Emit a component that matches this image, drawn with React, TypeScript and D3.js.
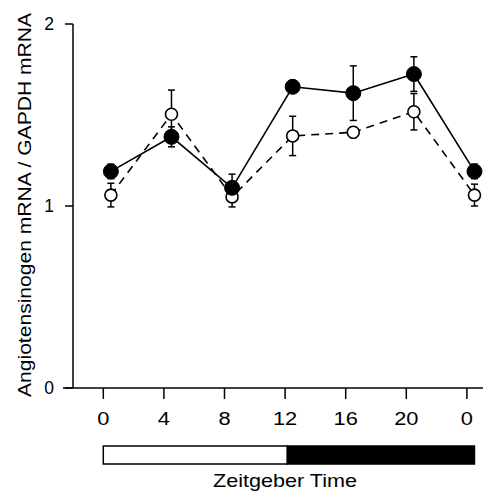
import React from "react";
import * as d3 from "d3";

const xTickValues = [0, 4, 8, 12, 16, 20, 24];
const xTickLabels = ["0", "4", "8", "12", "16", "20", "0"];
const yTickValues = [0, 1, 2];
const timePoints = [0.5, 4.5, 8.5, 12.5, 16.5, 20.5, 24.5];
const filledMeans = [1.19, 1.38, 1.1, 1.655, 1.62, 1.725, 1.19];
const filledErrors = [0.04, 0.055, 0.075, 0.03, 0.15, 0.095, 0.04];
const openMeans = [1.06, 1.504, 1.05, 1.385, 1.405, 1.518, 1.06];
const openErrors = [0.065, 0.133, 0.055, 0.108, 0.03, 0.1, 0.06];
const lightPhase = [0, 12.15];
const darkPhase = [12.15, 24.5];

const W = 485;
const H = 494;
const FONT = "Liberation Sans, Arial, Helvetica, sans-serif";

export default function App() {
  const x = d3.scaleLinear().domain([0, 24]).range([103.3, 466.9]);
  const y = d3.scaleLinear().domain([0, 2]).range([388, 24]);

  const filled = timePoints.map((t, i) => ({ t, m: filledMeans[i], e: filledErrors[i] }));
  const open = timePoints.map((t, i) => ({ t, m: openMeans[i], e: openErrors[i] }));

  const line = d3
    .line<{ t: number; m: number }>()
    .x((d) => x(d.t))
    .y((d) => y(d.m));

  const cap = 3.5;
  const errBar = (d: { t: number; m: number; e: number }, key: string) => {
    const cx = x(d.t);
    const y1 = y(d.m + d.e);
    const y2 = y(d.m - d.e);
    return (
      <g key={key} stroke="#000" strokeWidth={1.5}>
        <line x1={cx} x2={cx} y1={y1} y2={y2} />
        <line x1={cx - cap} x2={cx + cap} y1={y1} y2={y1} />
        <line x1={cx - cap} x2={cx + cap} y1={y2} y2={y2} />
      </g>
    );
  };

  const barY = 446;
  const barH = 18;

  return (
    <svg
      width={W}
      height={H}
      style={{ position: "absolute", left: 0, top: 0, background: "#fff" }}
      fontFamily={FONT}
    >
      <rect x={0} y={0} width={W} height={H} fill="#fff" />
      {/* axes */}
      <line x1={73} x2={73} y1={y(2)} y2={y(0)} stroke="#000" strokeWidth={1.5} />
      <line x1={63} x2={483} y1={y(0)} y2={y(0)} stroke="#000" strokeWidth={1.5} />
      {yTickValues.map((v) => (
        <g key={"yt" + v}>
          <line x1={65} x2={73} y1={y(v)} y2={y(v)} stroke="#000" strokeWidth={1.5} />
          <text x={54} y={y(v)} dy="0.36em" textAnchor="end" fontSize={17.5}>
            {v}
          </text>
        </g>
      ))}
      {xTickValues.map((v, i) => (
        <g key={"xt" + i}>
          <line x1={x(v)} x2={x(v)} y1={y(0)} y2={y(0) + 11} stroke="#000" strokeWidth={1.5} />
          <text
            x={x(v)}
            y={425}
            textAnchor="middle"
            fontSize={18.5}
            transform={`translate(${x(v)},0) scale(1.18,1) translate(${-x(v)},0)`}
          >
            {xTickLabels[i]}
          </text>
        </g>
      ))}
      {/* y label */}
      <text
        transform="translate(31,205) rotate(-90)"
        textAnchor="middle"
        fontSize={17.5}
        textLength={384}
        lengthAdjust="spacingAndGlyphs"
      >
        Angiotensinogen mRNA / GAPDH mRNA
      </text>
      {/* lines */}
      <path d={line(open) || ""} fill="none" stroke="#000" strokeWidth={1.6} strokeDasharray="8,6" />
      <path d={line(filled) || ""} fill="none" stroke="#000" strokeWidth={1.6} />
      {/* error bars */}
      {open.map((d, i) => errBar(d, "eo" + i))}
      {filled.map((d, i) => errBar(d, "ef" + i))}
      {/* markers */}
      {open.map((d, i) => (
        <circle key={"o" + i} cx={x(d.t)} cy={y(d.m)} r={6} fill="#fff" stroke="#000" strokeWidth={1.6} />
      ))}
      {filled.map((d, i) => (
        <circle key={"f" + i} cx={x(d.t)} cy={y(d.m)} r={7.5} fill="#000" stroke="#000" strokeWidth={1} />
      ))}
      {/* light/dark bar */}
      <rect
        x={x(lightPhase[0])}
        y={barY}
        width={x(lightPhase[1]) - x(lightPhase[0])}
        height={barH}
        fill="#fff"
        stroke="#000"
        strokeWidth={1.5}
      />
      <rect
        x={x(darkPhase[0])}
        y={barY}
        width={x(darkPhase[1]) - x(darkPhase[0])}
        height={barH}
        fill="#000"
        stroke="#000"
        strokeWidth={1.5}
      />
      <text
        x={285}
        y={487}
        textAnchor="middle"
        fontSize={18.5}
        textLength={144}
        lengthAdjust="spacingAndGlyphs"
      >
        Zeitgeber Time
      </text>
    </svg>
  );
}
